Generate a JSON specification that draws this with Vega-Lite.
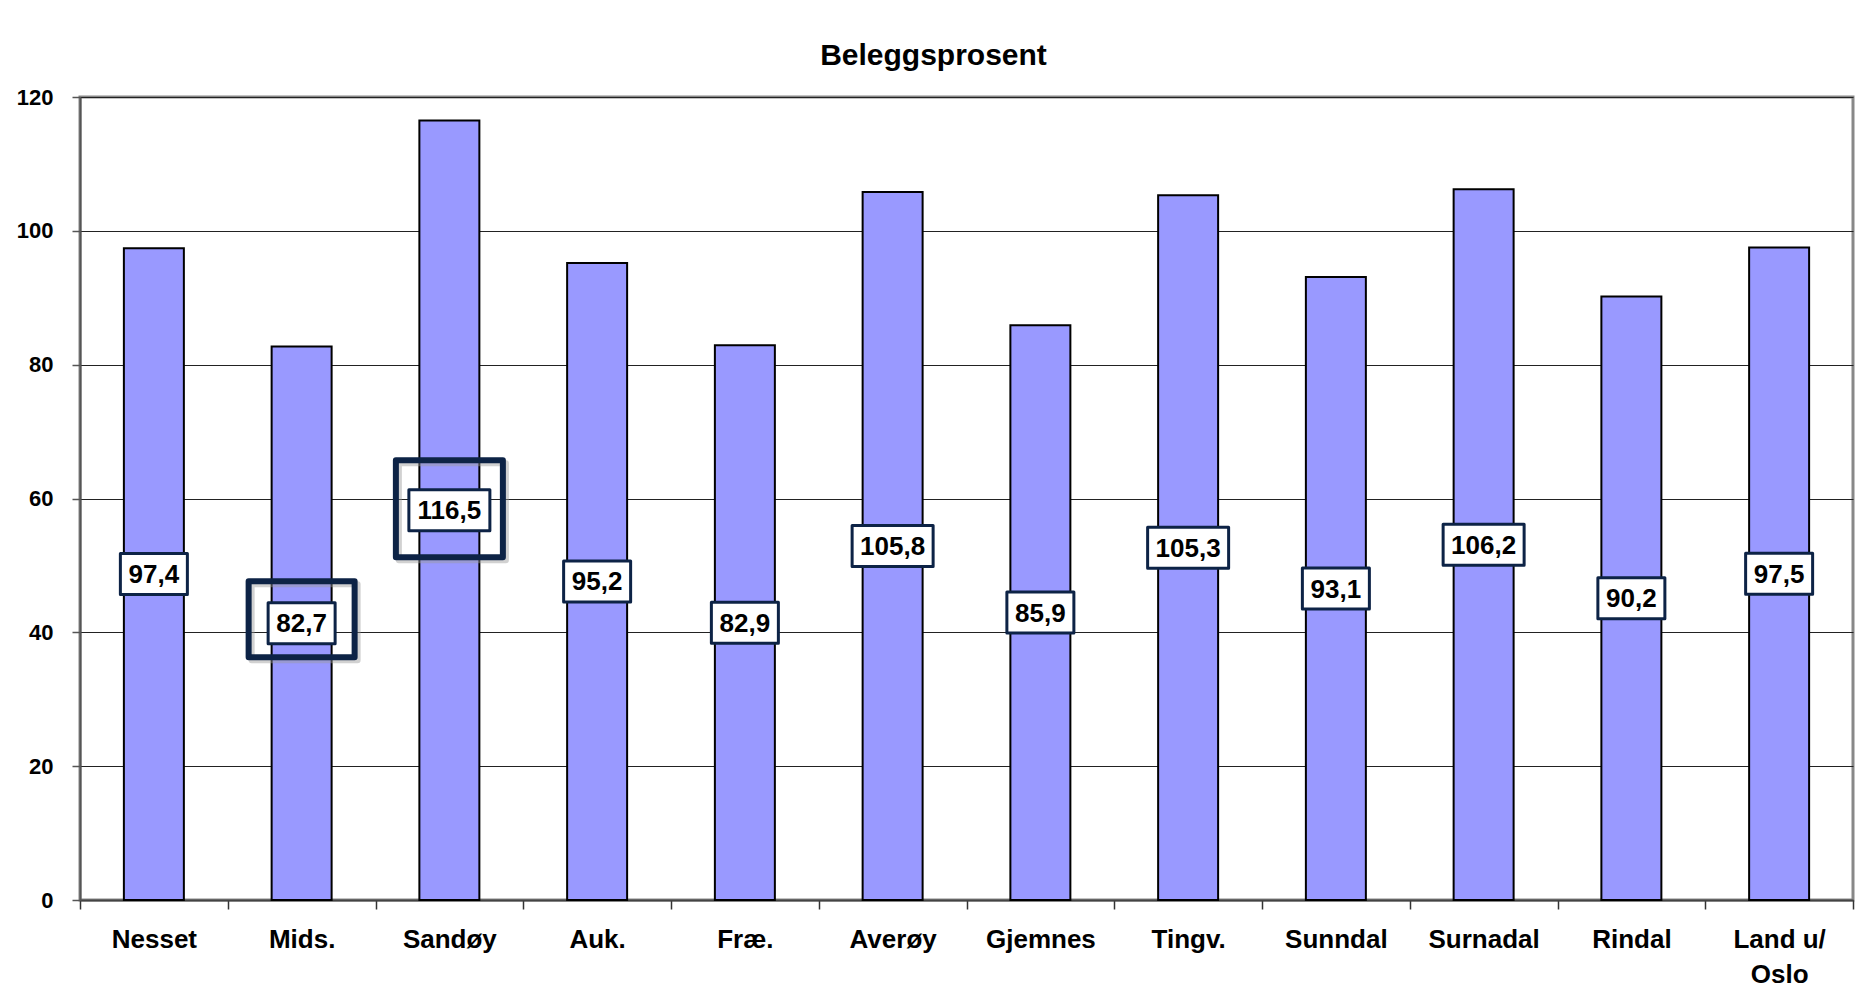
{
  "$schema": "https://vega.github.io/schema/vega-lite/v6.json",
  "width": 1773,
  "height": 803,
  "autosize": {"type": "none"},
  "padding": {"left": 80, "top": 97, "right": 19, "bottom": 95},
  "background": "white",
  "title": {
    "text": "Beleggsprosent",
    "font": "Liberation Sans, Arial, sans-serif",
    "fontSize": 30,
    "fontWeight": "bold",
    "color": "#000000",
    "anchor": "middle",
    "dx": -33,
    "dy": 41,
    "baseline": "alphabetic",
    "offset": 32
  },
  "data": {
    "values": [
      {"cat": "Nesset", "value": 97.4},
      {"cat": "Mids.", "value": 82.7},
      {"cat": "Sandøy", "value": 116.5},
      {"cat": "Auk.", "value": 95.2},
      {"cat": "Fræ.", "value": 82.9},
      {"cat": "Averøy", "value": 105.8},
      {"cat": "Gjemnes", "value": 85.9},
      {"cat": "Tingv.", "value": 105.3},
      {"cat": "Sunndal", "value": 93.1},
      {"cat": "Surnadal", "value": 106.2},
      {"cat": "Rindal", "value": 90.2},
      {"cat": "Land u/ Oslo", "value": 97.5}
    ]
  },
  "transform": [
    {"calculate": "datum.value / 2", "as": "mid"},
    {"calculate": "replace(format(datum.value, '.1f'), '.', ',')", "as": "lbl"}
  ],
  "encoding": {
    "x": {
      "field": "cat",
      "type": "nominal",
      "sort": null,
      "scale": {"paddingInner": 0, "paddingOuter": 0},
      "axis": {
        "title": null,
        "labelAngle": 0,
        "tickBand": "extent",
        "domainColor": "#444444",
        "domainWidth": 2,
        "tickColor": "#333333",
        "tickSize": 9,
        "tickWidth": 1.5,
        "labelFont": "Liberation Sans, Arial, sans-serif",
        "labelFontSize": 26,
        "labelFontWeight": "bold",
        "labelColor": "#000000",
        "labelPadding": 17,
        "labelLineHeight": 35,
        "labelExpr": "datum.value == 'Land u/ Oslo' ? ['Land u/', 'Oslo'] : datum.value"
      }
    }
  },
  "layer": [
    {
      "mark": {"type": "bar", "fill": "#9999ff", "stroke": "#000000", "strokeWidth": 2, "width": {"band": 0.406}},
      "encoding": {
        "y": {
          "field": "value",
          "type": "quantitative",
          "scale": {"domain": [0, 120], "nice": false},
          "axis": {
            "title": null,
            "values": [0, 20, 40, 60, 80, 100, 120],
            "grid": true,
            "gridColor": "#222222",
            "gridWidth": 1,
            "domainColor": "#555555",
            "domainWidth": 2,
            "tickColor": "#555555",
            "tickSize": 8,
            "tickWidth": 1.5,
            "labelFont": "Liberation Sans, Arial, sans-serif",
            "labelFontSize": 22,
            "labelFontWeight": "bold",
            "labelColor": "#000000",
            "labelPadding": 19
          }
        }
      }
    },
    {
      "transform": [{"filter": "datum.cat == 'Mids.' || datum.cat == 'Sandøy'"}],
      "mark": {"type": "point", "size": 4, "fill": null, "filled": false, "stroke": "#999999", "strokeWidth": 6, "opacity": 0.45, "strokeJoin": "round", "xOffset": 3, "yOffset": 3},
      "encoding": {
        "y": {"field": "mid", "type": "quantitative"},
        "shape": {
          "condition": {"test": "datum.cat == 'Mids.'", "value": "M-53,-42H53V34H-53Z"},
          "value": "M-53.5,-50H53.5V47H-53.5Z"
        }
      }
    },
    {
      "transform": [{"filter": "datum.cat == 'Mids.' || datum.cat == 'Sandøy'"}],
      "mark": {"type": "point", "size": 4, "fill": null, "filled": false, "stroke": "#0d2346", "strokeWidth": 6, "opacity": 1, "strokeJoin": "round"},
      "encoding": {
        "y": {"field": "mid", "type": "quantitative"},
        "shape": {
          "condition": {"test": "datum.cat == 'Mids.'", "value": "M-53,-42H53V34H-53Z"},
          "value": "M-53.5,-50H53.5V47H-53.5Z"
        }
      }
    },
    {
      "mark": {"type": "point", "size": 4, "fill": "#ffffff", "filled": true, "stroke": "#0d2346", "strokeWidth": 3, "opacity": 1, "strokeJoin": "round"},
      "encoding": {
        "y": {"field": "mid", "type": "quantitative"},
        "shape": {
          "condition": {"test": "datum.value >= 100", "value": "M-40.5,-20.5H40.5V20.5H-40.5Z"},
          "value": "M-33.5,-20.5H33.5V20.5H-33.5Z"
        }
      }
    },
    {
      "mark": {"type": "text", "font": "Liberation Sans, Arial, sans-serif", "fontSize": 26, "fontWeight": "bold", "color": "#000000", "baseline": "middle", "align": "center", "dy": 1},
      "encoding": {
        "y": {"field": "mid", "type": "quantitative"},
        "text": {"field": "lbl"}
      }
    }
  ],
  "config": {
    "view": {"stroke": "#888888", "strokeWidth": 3}
  }
}
